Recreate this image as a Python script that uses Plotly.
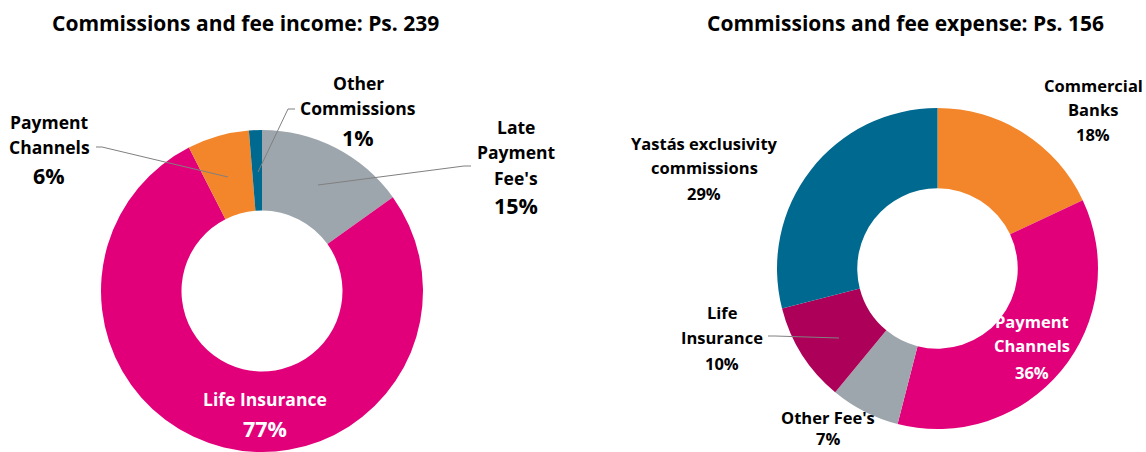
import plotly.graph_objects as go

# Data
income_labels = ["Late Payment Fee's", "Life Insurance", "Payment Channels", "Other Commissions"]
income_values = [15.1, 77.4, 6.2, 1.3]
income_pct = ["15%", "77%", "6%", "1%"]
income_colors = ["#9EA6AD", "#E2007A", "#F3862A", "#00698F"]

expense_labels = ["Commercial Banks", "Payment Channels", "Other Fee's", "Life Insurance", "Yastás exclusivity commissions"]
expense_values = [18, 36, 7, 10, 29]
expense_pct = ["18%", "36%", "7%", "10%", "29%"]
expense_colors = ["#F3862A", "#E2007A", "#9EA6AD", "#AD0058", "#00698F"]

titles = ["Commissions and fee income: Ps. 239", "Commissions and fee expense: Ps. 156"]

W, H = 1146, 452
FONT = "Open Sans"

def px(x):
    return x / W

def py(y):
    return 1 - y / H

fig = go.Figure()
fig.add_trace(go.Pie(
    labels=income_labels, values=income_values, hole=0.5, sort=False,
    direction="clockwise", rotation=0, textinfo="none", hoverinfo="label+percent",
    marker=dict(colors=income_colors, line=dict(width=0)),
    domain=dict(x=[px(101), px(423)], y=[py(452), py(130)]),
))
fig.add_trace(go.Pie(
    labels=expense_labels, values=expense_values, hole=0.5, sort=False,
    direction="clockwise", rotation=0, textinfo="none", hoverinfo="label+percent",
    marker=dict(colors=expense_colors, line=dict(width=0)),
    domain=dict(x=[px(777), px(1098)], y=[py(429), py(108)]),
))

ann = []
def label(x, ys, lines, sizes, color="#000000"):
    for y, t, s in zip(ys, lines, sizes):
        ann.append(dict(x=px(x), y=py(y), xref="paper", yref="paper", text="<b>" + t + "</b>",
                        showarrow=False, xanchor="center", yanchor="middle",
                        font=dict(family=FONT, size=s, color=color), align="center",
                        borderpad=0))

L, P = 17.5, 21.5   # left chart label / percent sizes
R = 16.5            # right chart label size

# titles
label(245, [23], [titles[0]], [21])
label(905, [23], [titles[1]], [21])

# left donut labels
label(49, [122, 147, 175], ["Payment", "Channels", income_pct[2]], [L, L, P])
label(358, [83, 108, 137], ["Other", "Commissions", income_pct[3]], [L, L, P])
label(516, [127, 152, 178, 205], ["Late", "Payment", "Fee's", income_pct[0]], [L, L, L, P])
label(265, [399, 428], ["Life Insurance", income_pct[1]], [L, P], color="#FFFFFF")

# right donut labels
label(1093, [85, 109, 135], ["Commercial", "Banks", expense_pct[0]], [R, R, R])
label(704, [143, 167, 193], ["Yastás exclusivity", "commissions", expense_pct[4]], [R, R, R])
label(1032, [321, 345, 372], ["Payment", "Channels", expense_pct[1]], [R, R, R], color="#FFFFFF")
label(722, [312, 337, 363], ["Life", "Insurance", expense_pct[3]], [R, R, R])
label(828, [417, 438], ["Other Fee's", expense_pct[2]], [R, R])

shapes = []
def seg(pts):
    path = "M " + " L ".join(f"{px(x)},{py(y)}" for x, y in pts)
    shapes.append(dict(type="path", xref="paper", yref="paper", path=path,
                       line=dict(color="#808080", width=1)))

seg([(96, 147), (102, 147), (228, 177)])
seg([(295, 109), (288, 109), (258, 172)])
seg([(471, 166), (464, 166), (318, 185)])
seg([(768, 336), (775, 336), (839, 338)])

fig.update_layout(
    width=W, height=H, margin=dict(l=0, r=0, t=0, b=0),
    paper_bgcolor="white", plot_bgcolor="white", showlegend=False,
    annotations=ann, shapes=shapes,
)
fig.write_html("out.html", config={"displayModeBar": False},
               post_script="document.body.style.margin='0px';document.body.style.overflow='hidden';")
